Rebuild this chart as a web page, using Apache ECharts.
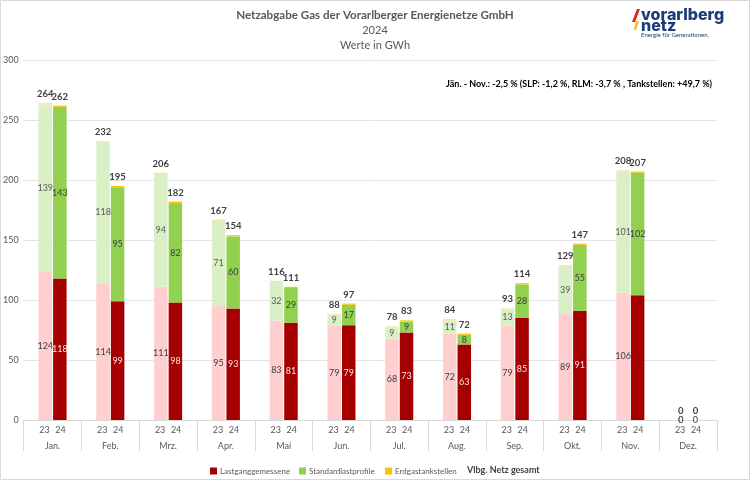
<!DOCTYPE html>
<html><head><meta charset="utf-8">
<script src="https://cdn.jsdelivr.net/npm/echarts@6/dist/echarts.min.js"></script>
<style>html,body{margin:0;padding:0;background:#fff}#c{width:750px;height:480px}</style>
</head><body><div id="c"></div>
<script>
// ---- data (GWh) ----
const months = ['Jan.','Feb.','Mrz.','Apr.','Mai','Jun.','Jul.','Aug.','Sep.','Okt.','Nov.','Dez.'];
const yearLabels = ['23','24'];
const last23 = [124,114,111,95,83,79,68,72,79,89,106,0];
const last24 = [118,99,98,93,81,79,73,63,85,91,104,0];
const slp23  = [139,118,94,71,32,9,9,11,13,39,101,0];
const slp24  = [143,95,82,60,29,17,9,8,28,55,102,0];
const tank23 = [1,0.5,1,1,1,0.5,1,1,1,1,1,0];
const tank24 = [1,1,2,1,1,1,1,1,1,1,1,0];
const total23 = [264,232,206,167,116,88,78,84,93,129,208,0];
const total24 = [262,195,182,154,111,97,83,72,114,147,207,0];
const hiddenLast24Labels = [10]; // Nov. 24: no value label in the original
const seriesNames = ['Lastganggemessene','Standardlastprofile','Erdgastankstellen','Vlbg. Netz gesamt'];
const titleLines = ['Netzabgabe Gas der Vorarlberger Energienetze GmbH','2024','Werte in GWh'];
const note = 'Jän. - Nov.: -2,5 % (SLP: -1,2 %, RLM: -3,7 % , Tankstellen: +49,7 %)';

// ---- chart ----
const FONT = 'Lato, "Open Sans", sans-serif';
const GRAY = '#595959';
const BW = 13.5;
const chart = echarts.init(document.getElementById('c'), null, {renderer:'canvas'});

function bar(name, stack, data, color, label) {
  return {name, type:'bar', stack, data, barWidth:BW, barGap:'8%',
    itemStyle:{color}, label: label || {show:false}, emphasis:{disabled:true}, animation:false};
}
function inLabel(color) {
  return {show:true, position:'inside', color, fontSize:9, fontFamily:FONT};
}
function totLabel(arr) {
  return {show:true, position:'top', distance:4, color:'#404040', fontSize:9.5, fontWeight:'bold',
    fontFamily:FONT, formatter: p => String(arr[p.dataIndex])};
}
function legendItem(name, left, extra) {
  return Object.assign({
    top:462, left, itemWidth:7, itemHeight:7, selectedMode:false,
    textStyle:{fontSize:8, color:GRAY, fontFamily:FONT, padding:[0,0,0,-2]},
    data:[{name, icon:'rect'}]
  }, extra || {});
}

const last24Data = last24.map((v,i) => hiddenLast24Labels.includes(i) ? {value:v, label:{show:false}} : v);

const option = {
  animation:false,
  grid:{left:22, right:33, top:60, bottom:60},
  xAxis:{
    type:'category', data:months,
    axisLine:{lineStyle:{color:'#d9d9d9'}},
    axisTick:{show:true, length:31, interval:0, lineStyle:{color:'#d9d9d9'}},
    axisLabel:{interval:0, margin:4,
      formatter: m => `{y|${yearLabels[0]}}{y|${yearLabels[1]}}\n{m|${m}}`,
      rich:{
        y:{width:16, align:'center', fontSize:9, color:GRAY, fontFamily:FONT, lineHeight:12},
        m:{fontSize:9, color:GRAY, fontFamily:FONT, lineHeight:20}
      }}
  },
  yAxis:{
    type:'value', min:0, max:300, interval:50,
    axisLine:{show:false}, axisTick:{show:false},
    axisLabel:{fontSize:9, color:GRAY, fontFamily:FONT, margin:5},
    splitLine:{lineStyle:{color:'#e4e4e4'}}
  },
  legend:[
    legendItem(seriesNames[0], 205),
    legendItem(seriesNames[1], 294),
    legendItem(seriesNames[2], 380),
    {top:461, left:456, itemWidth:1, itemHeight:7, selectedMode:false,
     textStyle:{fontSize:9, fontWeight:'bold', color:'#404040', fontFamily:FONT},
     data:[{name:seriesNames[3], icon:'none',
            textStyle:{fontSize:9, fontWeight:'bold', color:'#404040', fontFamily:FONT}}]}
  ],
  series:[
    bar('Lastganggemessene 2023','23', last23, '#ffcfcf', inLabel('#404040')),
    bar(seriesNames[0],'24', last24Data, '#a50000', inLabel('#ffe4e4')),
    bar('Standardlastprofile 2023','23', slp23, '#d9f0c6', inLabel(GRAY)),
    bar(seriesNames[1],'24', slp24, '#92d050', inLabel('#404040')),
    bar('Erdgastankstellen 2023','23', tank23, '#ffe08a'),
    bar(seriesNames[2],'24', tank24, '#ffc000'),
    bar('Gesamt 2023','23', total23.map(() => 0), 'rgba(0,0,0,0)', totLabel(total23)),
    bar(seriesNames[3],'24', total24.map(() => 0), 'rgba(0,0,0,0)', totLabel(total24))
  ],
  graphic:[
    {type:'rect', shape:{x:0.5, y:0.5, width:749, height:479}, style:{fill:'none', stroke:'#d9d9d9', lineWidth:1}, silent:true},
    {type:'text', x:375, y:15, style:{text:titleLines[0], font:`bold 11.6px ${FONT}`, fill:GRAY, textAlign:'center', textVerticalAlign:'middle'}},
    {type:'text', x:375, y:30, style:{text:titleLines[1], font:`11px ${FONT}`, fill:GRAY, textAlign:'center', textVerticalAlign:'middle'}},
    {type:'text', x:375, y:45, style:{text:titleLines[2], font:`11px ${FONT}`, fill:GRAY, textAlign:'center', textVerticalAlign:'middle'}},
    {type:'text', x:712, y:84, style:{text:note, font:`bold 9px ${FONT}`, fill:'#000', textAlign:'right', textVerticalAlign:'middle'}},
    // logo
    {type:'polygon', shape:{points:[[637,9],[640,9],[635,22],[632,22]]}, style:{fill:'#e2231a'}},
    {type:'polygon', shape:{points:[[636,21],[639,21],[636,30],[634,30]]}, style:{fill:'#ffc000'}},
    {type:'text', x:641, y:15, style:{text:'vorarlberg', font:`800 16px Inter, ${FONT}`, fill:'#1d3b78', textVerticalAlign:'middle'}},
    {type:'text', x:641, y:26, style:{text:'netz', font:`800 16px Inter, ${FONT}`, fill:'#1d3b78', textVerticalAlign:'middle'}},
    {type:'text', x:641, y:35, style:{text:'Energie für Generationen.', font:`6px ${FONT}`, fill:'#1d3b78', textVerticalAlign:'middle'}}
  ]
};
chart.setOption(option);
</script>
</body></html>
